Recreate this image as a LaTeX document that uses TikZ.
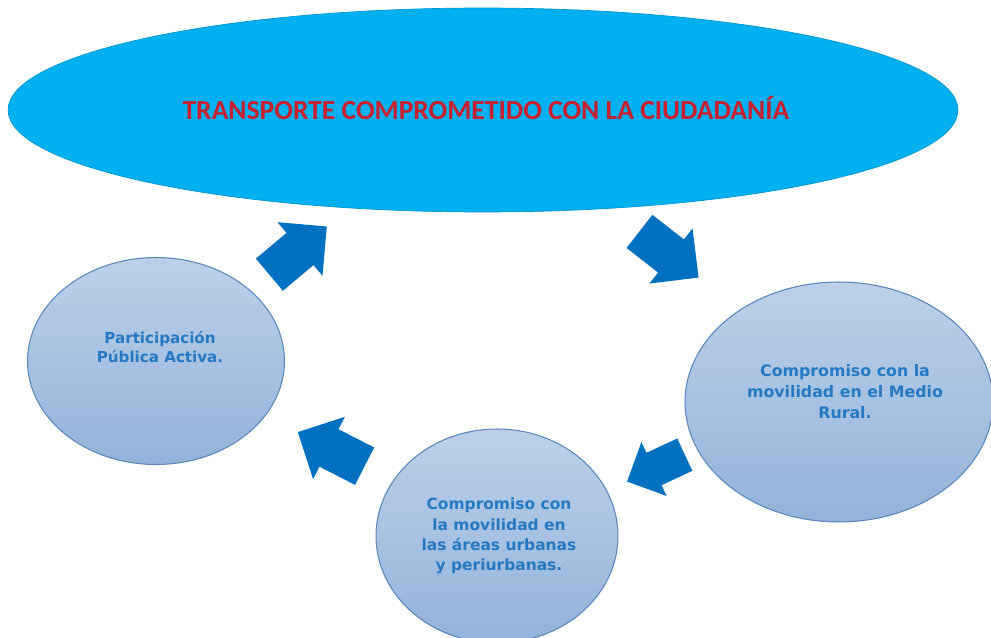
\documentclass[tikz,border=0pt]{standalone}
\usepackage{fontspec}
\usetikzlibrary{shapes.geometric}
\newfontfamily\titlefont{Carlito}
\newfontfamily\bubblefont{DejaVu Sans}
\definecolor{skyfill}{HTML}{00B0F0}
\definecolor{titlered}{HTML}{C8202E}
\definecolor{arrowblue}{HTML}{0070C0}
\definecolor{bubbletop}{HTML}{BCD0E8}
\definecolor{bubblebot}{HTML}{93B3DA}
\definecolor{bubbleline}{HTML}{5A86BA}
\definecolor{bubbletext}{HTML}{2479C4}
\tikzset{blockarrow/.pic={\fill[arrowblue] (-40,-21) -- (0,-21) -- (0,-35) -- (35,0) -- (0,35) -- (0,21) -- (-40,21) -- cycle;}}
\begin{document}
\begin{tikzpicture}[x=0.02cm,y=-0.02cm,
    bubble/.style={ellipse,inner sep=0pt,draw=bubbleline,line width=0.6pt,top color=bubbletop,bottom color=bubblebot},
    bubbletxt/.style={align=center,text=bubbletext,font=\bubblefont\bfseries\fontsize{8.6}{10.6}\selectfont}]
    \useasboundingbox (0,0) rectangle (991,638);
    \node [ellipse,inner sep=0pt,fill=skyfill,draw=skyfill!85!black,line width=0.4pt,minimum width=19cm,minimum height=4.08cm] (top) at (483,110) {};
    \node [text=titlered,font=\titlefont\bfseries\fontsize{15.7}{18}\selectfont] (title) at (486,108) {TRANSPORTE COMPROMETIDO CON LA CIUDADANÍA};
    \node [bubble,minimum width=5.14cm,minimum height=4.14cm] (public) at (156,361) {};
    \node [bubble,minimum width=6.16cm,minimum height=4.8cm] (rural) at (839,402) {};
    \node [bubble,minimum width=4.84cm,minimum height=4.28cm] (urban) at (497,536) {};
    \node [bubbletxt] (publictxt) at (160,347) {Participación\\Pública Activa.};
    \node [bubbletxt,font=\bubblefont\bfseries\fontsize{9}{12}\selectfont] (ruraltxt) at (845,392) {Compromiso con la\\movilidad en el Medio\\Rural.};
    \node [bubbletxt,font=\bubblefont\bfseries\fontsize{8.8}{11.6}\selectfont] (urbantxt) at (499,536) {Compromiso con\\la movilidad en\\las áreas urbanas\\y periurbanas.};
    \pic [rotate=40] at (300,249) {blockarrow};
    \pic [rotate=-38] at (671,256) {blockarrow};
    \pic [rotate=205,scale=0.85] at (654,469) {blockarrow};
    \pic [rotate=153] at (329,448) {blockarrow};
\end{tikzpicture}
\end{document}
